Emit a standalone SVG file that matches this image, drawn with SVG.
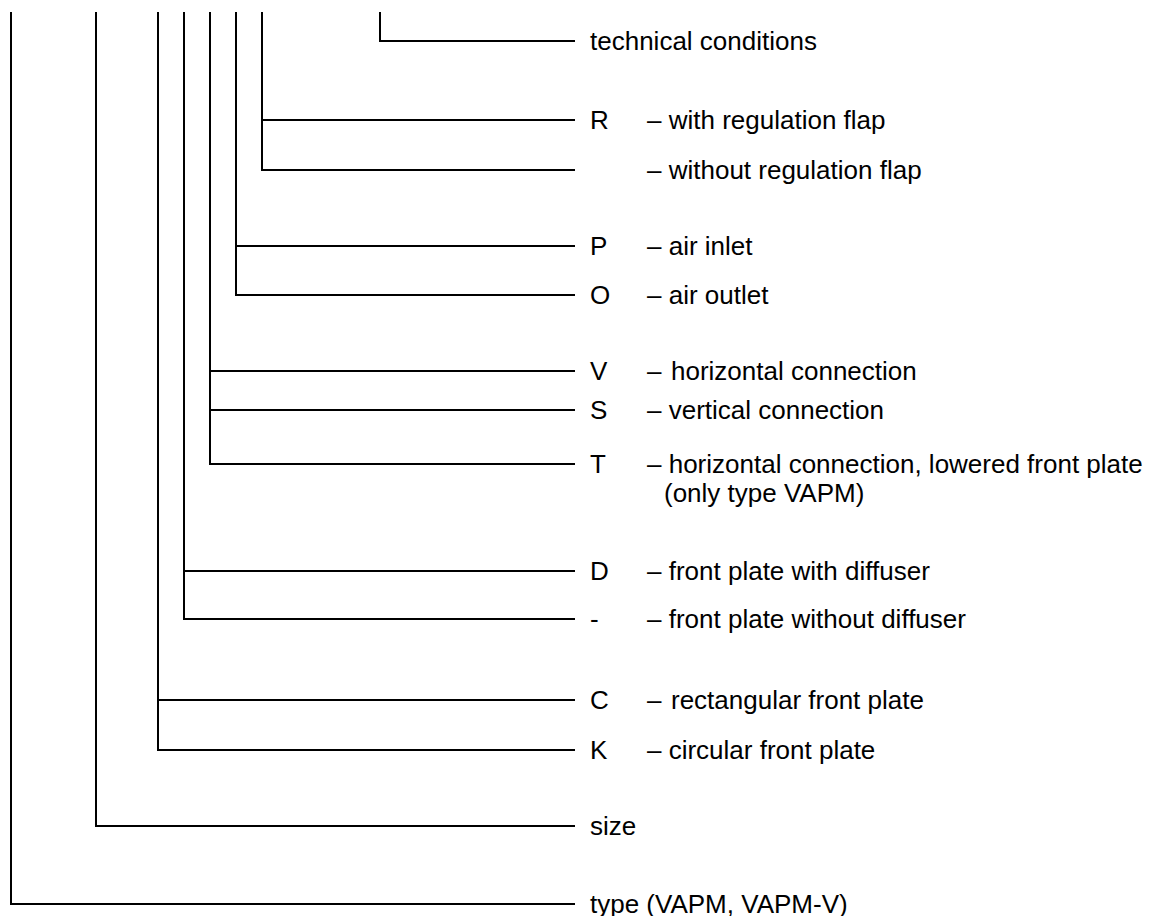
<svg xmlns="http://www.w3.org/2000/svg" width="1160" height="916" viewBox="0 0 1160 916">
<style>
.c{fill:none;stroke:#000;stroke-width:2}
text{font-family:"Liberation Sans",Arial,sans-serif;font-size:26px;fill:#000}
</style>
<rect width="1160" height="916" fill="#fff"/>
<g id="connectors">
<polyline class="c" points="380,12 380,41 575,41"/>
<polyline class="c" points="262,12 262,170 575,170"/>
<line class="c" x1="262" y1="120" x2="575" y2="120"/>
<polyline class="c" points="236,12 236,295 575,295"/>
<line class="c" x1="236" y1="246" x2="575" y2="246"/>
<polyline class="c" points="210,12 210,464 575,464"/>
<line class="c" x1="210" y1="371" x2="575" y2="371"/>
<line class="c" x1="210" y1="410" x2="575" y2="410"/>
<polyline class="c" points="184,12 184,619 575,619"/>
<line class="c" x1="184" y1="571" x2="575" y2="571"/>
<polyline class="c" points="158,12 158,750 575,750"/>
<line class="c" x1="158" y1="700" x2="575" y2="700"/>
<polyline class="c" points="96,12 96,826 575,826"/>
<polyline class="c" points="11,12 11,904 575,904"/>
</g>
<g id="tech"><text x="590" y="50">technical conditions</text></g>
<g id="R"><text x="590" y="129">R</text><text x="647" y="129">– with regulation flap</text></g>
<g id="noR"><text x="647" y="179">– without regulation flap</text></g>
<g id="P"><text x="590" y="255">P</text><text x="647" y="255">– air inlet</text></g>
<g id="O"><text x="590" y="304">O</text><text x="647" y="304">– air outlet</text></g>
<g id="V"><text x="590" y="380">V</text><text x="647" y="380">–</text><text x="671" y="380">horizontal connection</text></g>
<g id="S"><text x="590" y="419">S</text><text x="647" y="419">– vertical connection</text></g>
<g id="T"><text x="590" y="473">T</text><text x="647" y="473">– horizontal connection, lowered front plate</text><text x="664" y="502">(only type VAPM)</text></g>
<g id="D"><text x="590" y="580">D</text><text x="647" y="580">– front plate with diffuser</text></g>
<g id="nD"><text x="590" y="628">-</text><text x="647" y="628">– front plate without diffuser</text></g>
<g id="C"><text x="590" y="709">C</text><text x="647" y="709">–</text><text x="671" y="709">rectangular front plate</text></g>
<g id="K"><text x="590" y="759">K</text><text x="647" y="759">– circular front plate</text></g>
<g id="size"><text x="590" y="835">size</text></g>
<g id="type"><text x="590" y="913">type (VAPM, VAPM-V)</text></g>
</svg>
